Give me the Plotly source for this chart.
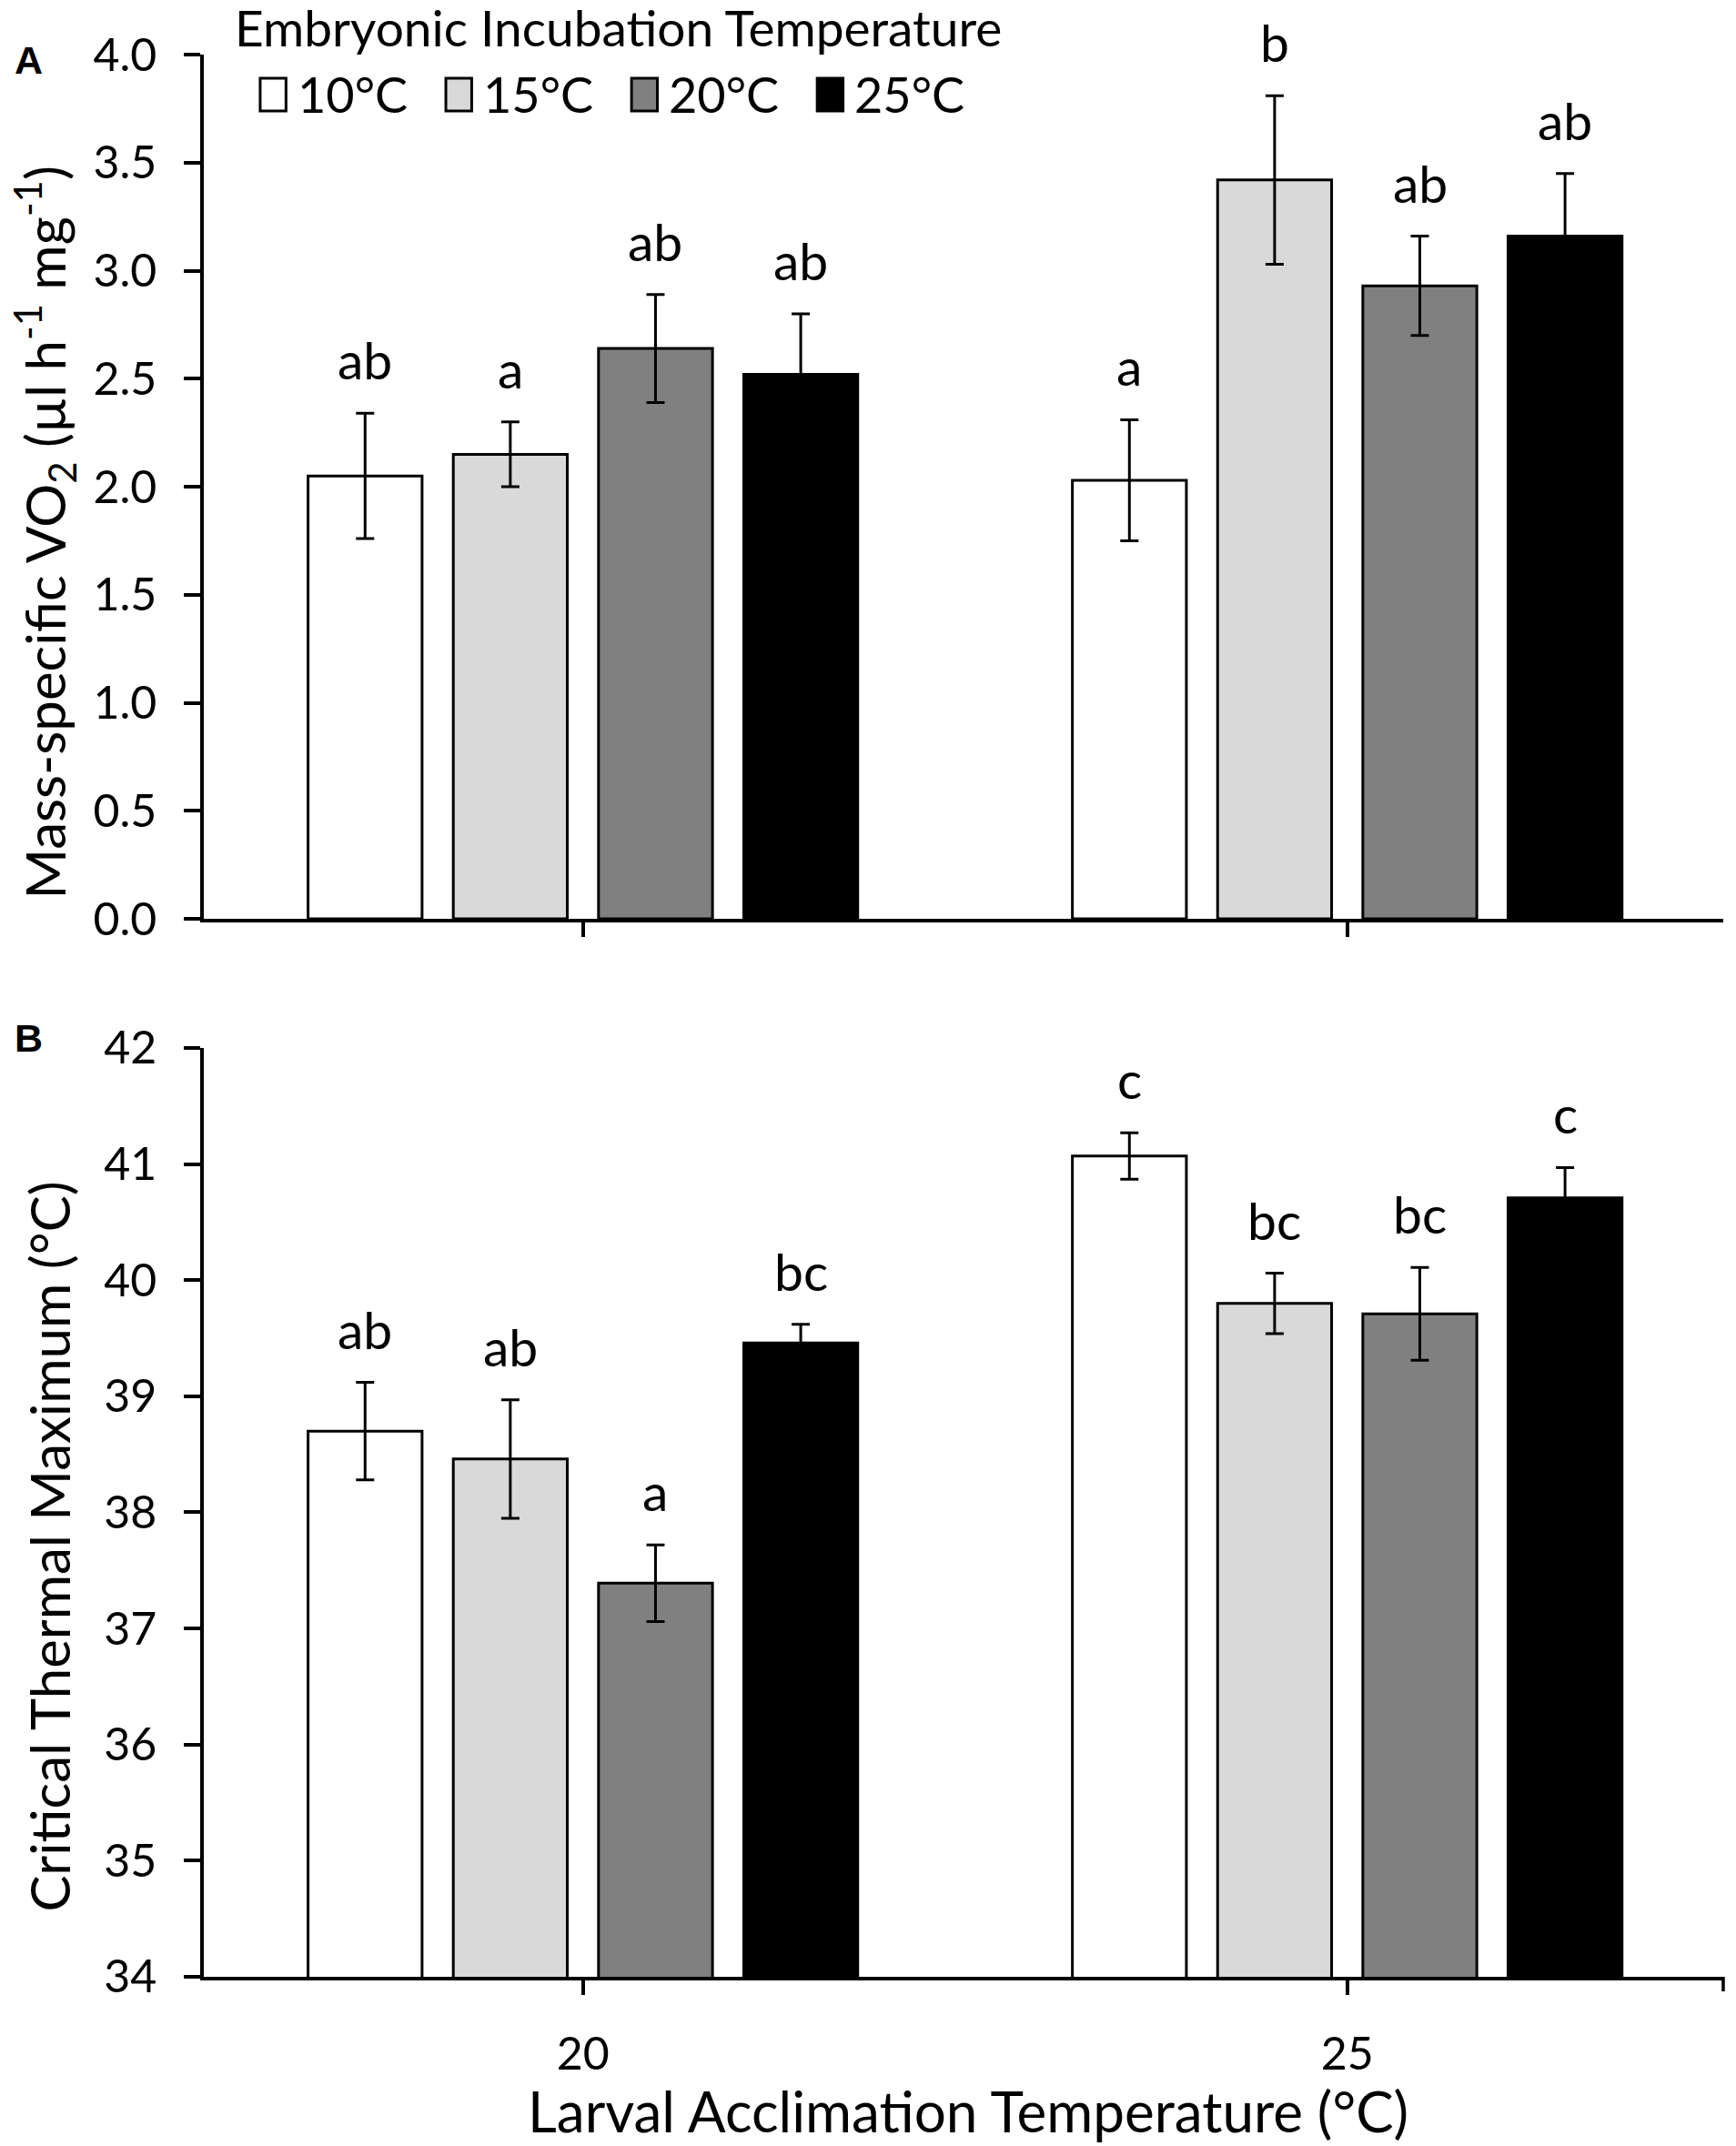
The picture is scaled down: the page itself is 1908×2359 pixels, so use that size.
import plotly.graph_objects as go

# Larval acclimation temperature groups (x categories)
groups = ["20", "25"]
# Embryonic incubation temperature series
series = ["10°C", "15°C", "20°C", "25°C"]
colors = ["#FFFFFF", "#D9D9D9", "#808080", "#000000"]

# Panel A: mass-specific VO2, one list per series: [20, 25]
vo2_mean = [[2.05, 2.03], [2.15, 3.42], [2.64, 2.93], [2.52, 3.16]]
vo2_err = [[0.29, 0.28], [0.15, 0.39], [0.25, 0.23], [0.28, 0.29]]
vo2_letters = [["ab", "a"], ["a", "b"], ["ab", "ab"], ["ab", "ab"]]

# Panel B: critical thermal maximum
ctmax_mean = [[38.70, 41.07], [38.46, 39.80], [37.39, 39.71], [39.46, 40.71]]
ctmax_err = [[0.42, 0.20], [0.51, 0.26], [0.33, 0.40], [0.16, 0.26]]
ctmax_letters = [["ab", "c"], ["ab", "bc"], ["a", "bc"], ["bc", "c"]]

FONT = "Lato"
BARGAP = 0.24

fig = go.Figure()

for i, name in enumerate(series):
    fig.add_trace(go.Bar(
        x=groups, y=vo2_mean[i], name=name, legendgroup=name,
        marker=dict(color=colors[i], line=dict(color="black", width=3)),
        error_y=dict(type="data", array=vo2_err[i], color="black",
                     thickness=3, width=10),
        xaxis="x", yaxis="y", offsetgroup=str(i),
    ))
    fig.add_trace(go.Bar(
        x=groups, y=ctmax_mean[i], name=name, legendgroup=name,
        marker=dict(color=colors[i], line=dict(color="black", width=3)),
        error_y=dict(type="data", array=ctmax_err[i], color="black",
                     thickness=3, width=10),
        xaxis="x2", yaxis="y2", offsetgroup=str(i),
    ))

# significance letters above error bars
n = len(series)
slot = (1 - BARGAP) / n
for i in range(n):
    off = (i - (n - 1) / 2) * slot
    for j, g in enumerate(groups):
        fig.add_annotation(x=j + off, y=vo2_mean[i][j] + vo2_err[i][j],
                           xref="x", yref="y", text=vo2_letters[i][j],
                           showarrow=False, xanchor="center", yanchor="bottom", yshift=23,
                           font=dict(family=FONT, size=57, color="black"))
        fig.add_annotation(x=j + off, y=ctmax_mean[i][j] + ctmax_err[i][j],
                           xref="x2", yref="y2", text=ctmax_letters[i][j],
                           showarrow=False, xanchor="center", yanchor="bottom", yshift=23,
                           font=dict(family=FONT, size=57, color="black"))

# panel labels
for lab, ypos in [("A", 0.9972), ("B", 0.4884)]:
    fig.add_annotation(x=-0.115, y=ypos, xref="paper", yref="paper", text=f"<b>{lab}</b>",
                       showarrow=False, xanchor="center", yanchor="middle",
                       font=dict(family="Liberation Sans", size=43, color="black"))

# axis titles
fig.add_annotation(x=-0.1045, y=0.7515, xref="paper", yref="paper", textangle=-90,
                   text="Mass-specific VO<sub>2</sub> (µl h<sup>-1</sup> mg<sup>-1</sup>)",
                   showarrow=False, xanchor="center", yanchor="middle",
                   font=dict(family=FONT, size=60, color="black"))
fig.add_annotation(x=-0.102, y=0.2239, xref="paper", yref="paper", textangle=-90,
                   text="Critical Thermal Maximum (°C)",
                   showarrow=False, xanchor="center", yanchor="middle",
                   font=dict(family=FONT, size=60, color="black"))
fig.add_annotation(x=0.503, y=-0.0696, xref="paper", yref="paper",
                   text="Larval Acclimation Temperature (°C)",
                   showarrow=False, xanchor="center", yanchor="middle",
                   font=dict(family=FONT, size=62, color="black"))

# legend drawn as boxes + labels above panel A
fig.add_annotation(x=0.273, y=1.0140, xref="paper", yref="paper",
                   text="Embryonic Incubation Temperature", showarrow=False,
                   xanchor="center", yanchor="middle",
                   font=dict(family=FONT, size=55, color="black"))
leg_x0, leg_step, box_w = 0.0371, 0.1222, 0.017
for i, name in enumerate(series):
    x0 = leg_x0 + i * leg_step
    fig.add_shape(type="rect", xref="paper", yref="paper",
                  x0=x0, x1=x0 + box_w, y0=0.9706, y1=0.9877,
                  fillcolor=colors[i], line=dict(color="black", width=3))
    fig.add_annotation(x=x0 + 0.0235, y=0.9792, xref="paper", yref="paper",
                       text=name, showarrow=False, xanchor="left", yanchor="middle",
                       font=dict(family=FONT, size=54, color="black"))

# tick at the right end of the lower x axis
fig.add_shape(type="line", xref="x2 domain", yref="y2 domain", x0=1, x1=1,
              ysizemode="pixel", yanchor=0, y0=0, y1=-16,
              line=dict(color="black", width=3.5))

axis_common = dict(showline=True, linecolor="black", linewidth=3.5, ticks="outside",
                   tickcolor="black", tickwidth=3.5, showgrid=False, zeroline=False,
                   tickfont=dict(family=FONT, size=50, color="black"))

fig.update_layout(
    width=1908, height=2359,
    paper_bgcolor="white", plot_bgcolor="white",
    margin=dict(l=216, r=22, t=52, b=194),
    barmode="group", bargap=BARGAP, bargroupgap=0.215,
    showlegend=False,
    xaxis=dict(domain=[0, 1], anchor="y", range=[-0.496, 1.492], showticklabels=False,
               ticklen=16, **axis_common),
    yaxis=dict(domain=[0.5504, 1], anchor="x", range=[0, 4.0], dtick=0.5,
               tickformat=".1f", ticklen=18, ticklabelstandoff=20, **axis_common),
    xaxis2=dict(domain=[0, 1], anchor="y2", range=[-0.496, 1.492], ticklen=16,
                ticklabelstandoff=22, **axis_common),
    yaxis2=dict(domain=[0, 0.4832], anchor="x2", range=[34, 42], dtick=1, ticklen=18,
                ticklabelstandoff=20, **axis_common),
)

fig.write_html("out.html")
